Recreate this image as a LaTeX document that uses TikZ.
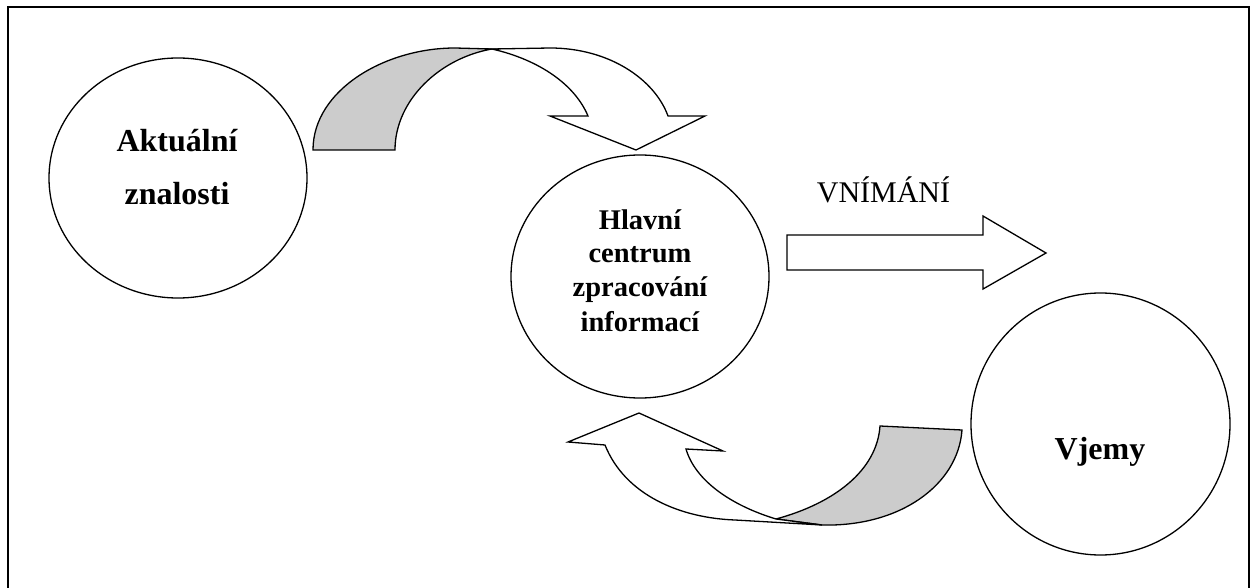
\documentclass[tikz,border=0pt]{standalone}
\usepackage{fontspec}
\setmainfont{Liberation Serif}
\usetikzlibrary{shapes.geometric}
\begin{document}
\begin{tikzpicture}[x=1pt,y=-1pt,line join=miter,
  bubble/.style={draw,line width=1.3pt,ellipse,inner sep=0pt},
  big/.style={font=\fontsize{32}{38}\selectfont\bfseries,anchor=base,inner sep=0pt},
  mid/.style={font=\fontsize{28.5}{34}\selectfont\bfseries,anchor=base,inner sep=0pt},
  band/.style={draw,line width=1.3pt},
  backface/.style={band,fill=black!20},
  frontface/.style={band,fill=white}]
\useasboundingbox (0,0) rectangle (1251,588);
% frame (open at the bottom)
\draw[line width=2pt] (8,588) -- (8,7) -- (1248.5,7) -- (1248.5,588);
% circles
\node[bubble,minimum width=258pt,minimum height=240pt] (ak) at (178,178) {};
\node[bubble,minimum width=258pt,minimum height=243pt] (hc) at (640,276.5) {};
\node[bubble,minimum width=259pt,minimum height=262pt] (vj) at (1100.5,424) {};
% texts
\node[big] (ak1) at (177,152) {Aktuální};
\node[big] (ak2) at (177,205) {znalosti};
\node[mid] (hc1) at (640,230) {Hlavní};
\node[mid] (hc2) at (640,263) {centrum};
\node[mid] (hc3) at (640,297) {zpracování};
\node[mid] (hc4) at (640,331.5) {informací};
\node[big] (vj1) at (1100,459) {Vjemy};
\node[font=\fontsize{30}{36}\selectfont,anchor=base,inner sep=0pt] (vn) at (883.5,203) {VNÍMÁNÍ};
% straight block arrow
\draw[band] (787,235) -- (983,235) -- (983,216) -- (1046,253) -- (983,289) -- (983,270) -- (787,270) -- cycle;
% upper curved arrow
\draw[backface] (313,150) .. controls (313,90) and (385,48) .. (455,48) -- (492,49)
   .. controls (440,58) and (395,100) .. (395,150) -- cycle;
\draw[frontface] (492,49) -- (550,48) .. controls (610,48) and (655,80) .. (668,116)
   -- (705,116) -- (636,150) -- (550,116) -- (588,116)
   .. controls (575,85) and (540,60) .. (492,49) -- cycle;
% lower curved arrow
\draw[backface] (776,519) .. controls (835,503) and (877,470) .. (880,426) -- (962,430)
   .. controls (958,485) and (900,527) .. (822,525) -- cycle;
\draw[frontface] (776,519) .. controls (730,505) and (695,480) .. (686,449)
   -- (723,451) -- (639,413) -- (568,442) -- (605,445)
   .. controls (625,495) and (680,518) .. (735,520) -- (822,525) -- cycle;
\end{tikzpicture}
\end{document}
